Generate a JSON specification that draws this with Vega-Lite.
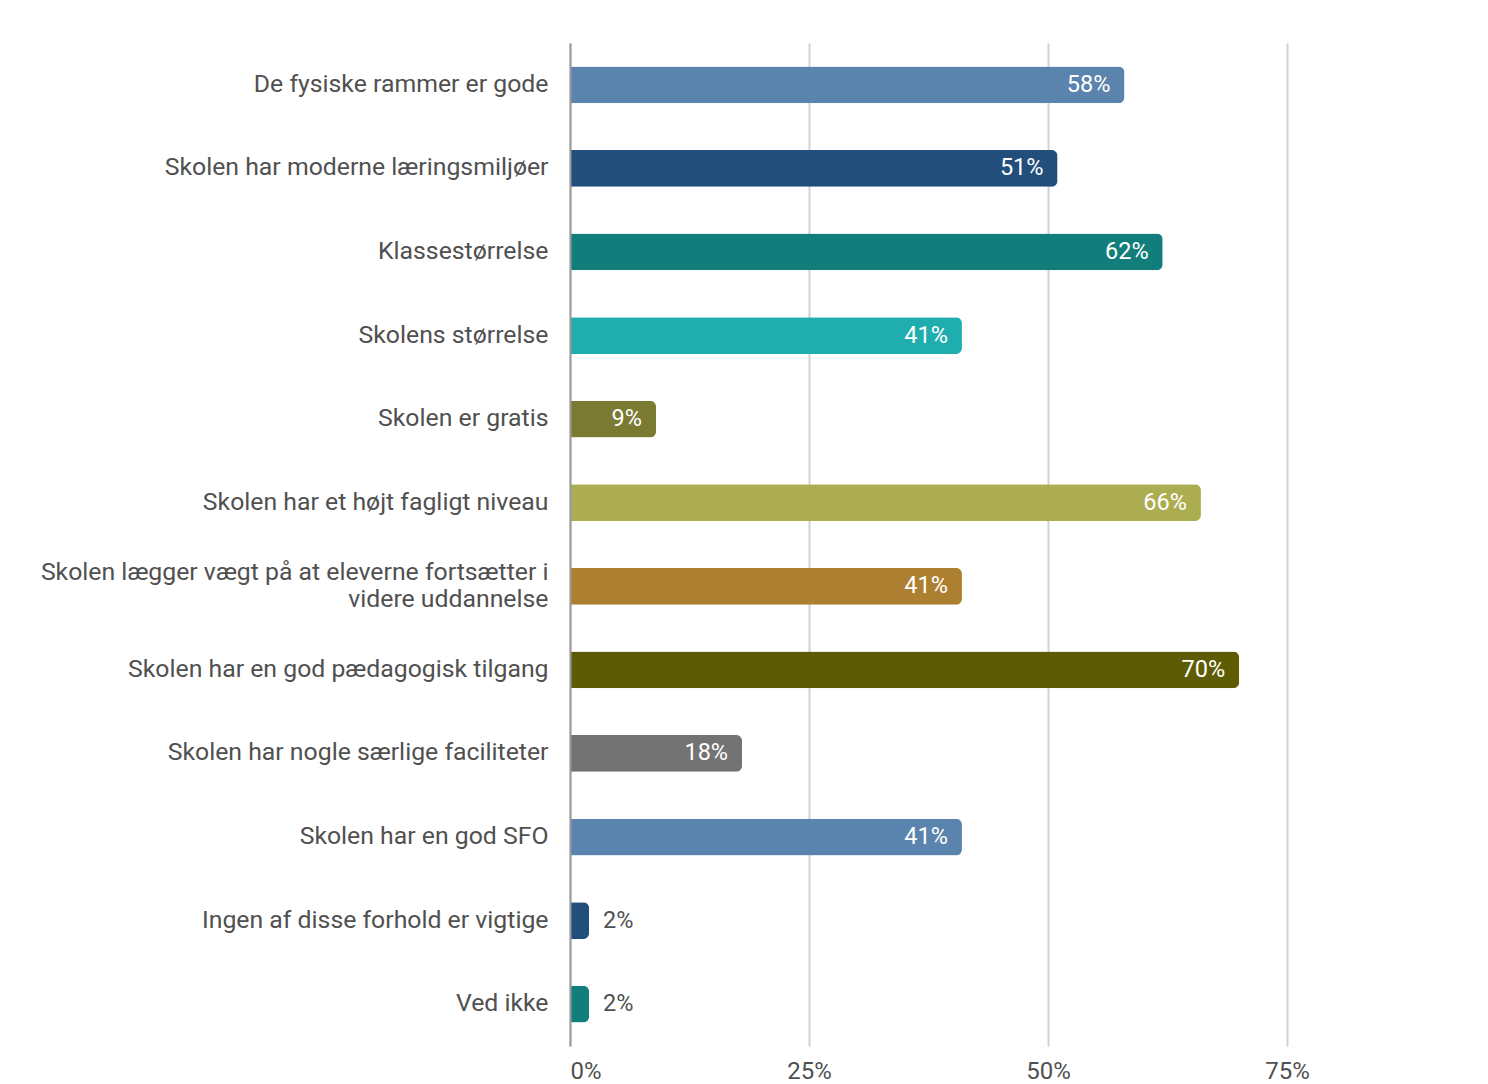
{
  "$schema": "https://vega.github.io/schema/vega-lite/v6.json",
  "width": 918,
  "height": 1003,
  "autosize": {"type": "none"},
  "padding": {"left": 570, "top": 43, "right": 0, "bottom": 38},
  "background": "white",
  "config": {
    "font": "Roboto",
    "view": {"stroke": null},
    "axis": {"labelFont": "Roboto", "labelColor": "#505050", "labelFontSize": 24}
  },
  "data": {
    "values": [
      {"item": "De fysiske rammer er gode", "share": 0.58},
      {"item": "Skolen har moderne læringsmiljøer", "share": 0.51},
      {"item": "Klassestørrelse", "share": 0.62},
      {"item": "Skolens størrelse", "share": 0.41},
      {"item": "Skolen er gratis", "share": 0.09},
      {"item": "Skolen har et højt fagligt niveau", "share": 0.66},
      {"item": "Skolen lægger vægt på at eleverne fortsætter i videre uddannelse", "share": 0.41},
      {"item": "Skolen har en god pædagogisk tilgang", "share": 0.70},
      {"item": "Skolen har nogle særlige faciliteter", "share": 0.18},
      {"item": "Skolen har en god SFO", "share": 0.41},
      {"item": "Ingen af disse forhold er vigtige", "share": 0.02},
      {"item": "Ved ikke", "share": 0.02}
    ]
  },
  "encoding": {
    "y": {
      "field": "item",
      "type": "nominal",
      "sort": null,
      "title": null,
      "scale": {"paddingInner": 0.56, "paddingOuter": 0.28},
      "axis": {
        "ticks": false,
        "labelPadding": 22,
        "domain": true,
        "domainColor": "#9a9a9a",
        "domainWidth": 2,
        "zindex": 1,
        "labelLimit": 600,
        "labelFontSize": 24.8,
        "labelLineHeight": 27,
        "labelOffset": {"condition": {"test": "datum.value == 'Skolen lægger vægt på at eleverne fortsætter i videre uddannelse'", "value": -13}, "value": 0},
        "labelExpr": "datum.value == 'Skolen lægger vægt på at eleverne fortsætter i videre uddannelse' ? ['Skolen lægger vægt på at eleverne fortsætter i', 'videre uddannelse'] : datum.value"
      }
    },
    "x": {
      "field": "share",
      "type": "quantitative",
      "title": null,
      "scale": {"domain": [0, 0.9603], "nice": false},
      "axis": {
        "values": [0, 0.25, 0.5, 0.75],
        "format": ".0%",
        "domain": false,
        "ticks": false,
        "grid": true,
        "gridColor": "#d2d2d2",
        "gridWidth": 2,
        "labelPadding": 13,
        "labelFlush": true
      }
    }
  },
  "layer": [
    {
      "mark": {"type": "bar", "cornerRadiusEnd": 6},
      "encoding": {
        "color": {
          "field": "item",
          "type": "nominal",
          "legend": null,
          "scale": {
            "domain": [
              "De fysiske rammer er gode",
              "Skolen har moderne læringsmiljøer",
              "Klassestørrelse",
              "Skolens størrelse",
              "Skolen er gratis",
              "Skolen har et højt fagligt niveau",
              "Skolen lægger vægt på at eleverne fortsætter i videre uddannelse",
              "Skolen har en god pædagogisk tilgang",
              "Skolen har nogle særlige faciliteter",
              "Skolen har en god SFO",
              "Ingen af disse forhold er vigtige",
              "Ved ikke"
            ],
            "range": ["#5a83ad", "#214e7a", "#117e7b", "#20adad", "#7b7a32", "#acad50", "#ac8030", "#5d5c05", "#737373", "#5a83ad", "#214e7a", "#117e7b"]
          }
        }
      }
    },
    {
      "transform": [{"filter": "datum.share >= 0.05"}],
      "mark": {"type": "text", "align": "right", "baseline": "middle", "dx": -14, "fontSize": 23.5, "color": "white", "font": "Roboto"},
      "encoding": {"text": {"field": "share", "type": "quantitative", "format": ".0%"}}
    },
    {
      "transform": [{"filter": "datum.share < 0.05"}],
      "mark": {"type": "text", "align": "left", "baseline": "middle", "dx": 14, "fontSize": 23.5, "color": "#505050", "font": "Roboto"},
      "encoding": {"text": {"field": "share", "type": "quantitative", "format": ".0%"}}
    }
  ]
}
